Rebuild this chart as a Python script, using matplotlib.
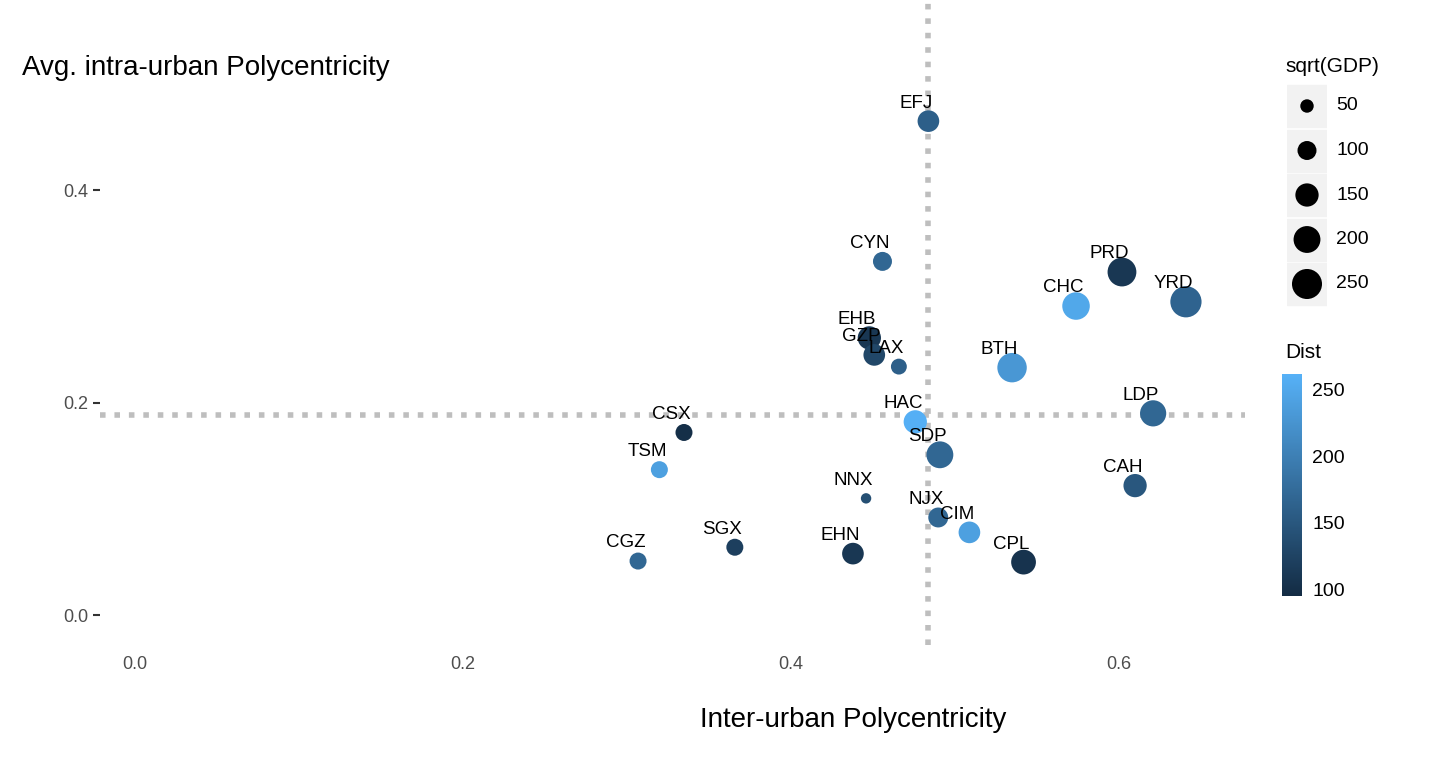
import matplotlib.pyplot as plt
import numpy as np
from matplotlib.colors import LinearSegmentedColormap, Normalize

plt.rcParams['font.family'] = ['Liberation Sans', 'DejaVu Sans']

names = ['EFJ','CYN','PRD','YRD','CHC','EHB','GZP','LAX','BTH','LDP','HAC',
         'CSX','SDP','TSM','CAH','NNX','NJX','CIM','SGX','EHN','CGZ','CPL']
inter = [0.484,0.456,0.602,0.641,0.574,0.448,0.451,0.466,0.535,0.621,0.476,
         0.335,0.491,0.320,0.610,0.446,0.490,0.509,0.366,0.438,0.307,0.542]
intra = [0.465,0.333,0.323,0.295,0.291,0.261,0.245,0.234,0.233,0.190,0.182,
         0.172,0.151,0.137,0.122,0.110,0.092,0.078,0.064,0.058,0.051,0.050]
gdp = [130,100,230,270,210,150,130,70,240,190,150,
       80,200,80,150,30,110,130,80,130,80,170]
dist = [160,170,110,165,250,110,130,160,230,170,260,
        100,170,240,150,140,170,240,120,110,170,105]
v_line = 0.484
h_line = 0.188

cmap = LinearSegmentedColormap.from_list('gg', ['#132B43', '#56B1F7'])
norm = Normalize(95, 262)
k = 1.87

fig = plt.figure(figsize=(14.5, 7.64), dpi=100)
ax = fig.add_axes([100/1450, 1-645/764, 1145/1450, 645/764])
ax.axvline(v_line, color='#BEBEBE', ls=(0, (1, 1.6)), lw=4, zorder=1)
ax.axhline(h_line, color='#BEBEBE', ls=(0, (1, 1.6)), lw=4, zorder=1)
ax.scatter(inter, intra, s=np.array(gdp)*k, c=dist, cmap=cmap, norm=norm,
           zorder=2, linewidths=0)
for n, x, y in zip(names, inter, intra):
    ax.annotate(n, (x, y), xytext=(-9, 13), textcoords='offset points',
                ha='center', va='center', fontsize=13.5, zorder=3)
ax.set_xlim(-0.021, 0.677)
ax.set_ylim(-0.028, 0.579)
ax.set_xticks([0, 0.2, 0.4, 0.6])
ax.set_yticks([0, 0.2, 0.4])
ax.xaxis.set_major_formatter(plt.FuncFormatter(lambda v, p: f'{v:.1f}'))
ax.yaxis.set_major_formatter(plt.FuncFormatter(lambda v, p: f'{v:.1f}'))
ax.tick_params(axis='x', length=0, labelsize=13, labelcolor='#4D4D4D', pad=8)
ax.tick_params(axis='y', length=5, width=1.5, color='#333333', labelsize=13,
               labelcolor='#4D4D4D')
for s in ax.spines.values():
    s.set_visible(False)
fig.text(853/1450, 1-720/764, 'Inter-urban Polycentricity', fontsize=20,
         ha='center', va='center')
fig.text(22/1450, 1-68/764, 'Avg. intra-urban Polycentricity', fontsize=20, va='center')

# size legend
fig.text(1285/1450, 1-66/764, 'sqrt(GDP)', fontsize=15, va='center')
lg = fig.add_axes([1287/1450, 0, 40/1450, 1])
lg.set_xlim(0, 1)
lg.set_ylim(0, 764)
lg.axis('off')
vals = [50, 100, 150, 200, 250]
ys = [764-(106+44.5*i) for i in range(len(vals))]
for yc, v in zip(ys, vals):
    lg.add_patch(plt.Rectangle((0, yc-21), 1, 42, color='#F2F2F2', zorder=0))
    fig.text(1336/1450, yc/764, str(v), fontsize=14, va='center')
lg.scatter([0.5]*len(vals), ys, s=np.array(vals)*k, color='black',
           linewidths=0, zorder=2)

# colorbar
fig.text(1285/1450, 1-352/764, 'Dist', fontsize=15, va='center')
cax = fig.add_axes([1282/1450, 1-596/764, 20/1450, 222/764])
cb = fig.colorbar(plt.cm.ScalarMappable(norm=norm, cmap=cmap), cax=cax)
cb.set_ticks([100, 150, 200, 250])
cb.outline.set_visible(False)
cb.ax.tick_params(length=4, color='white', labelsize=14, labelcolor='black')

fig.savefig('out.png', dpi=100)
